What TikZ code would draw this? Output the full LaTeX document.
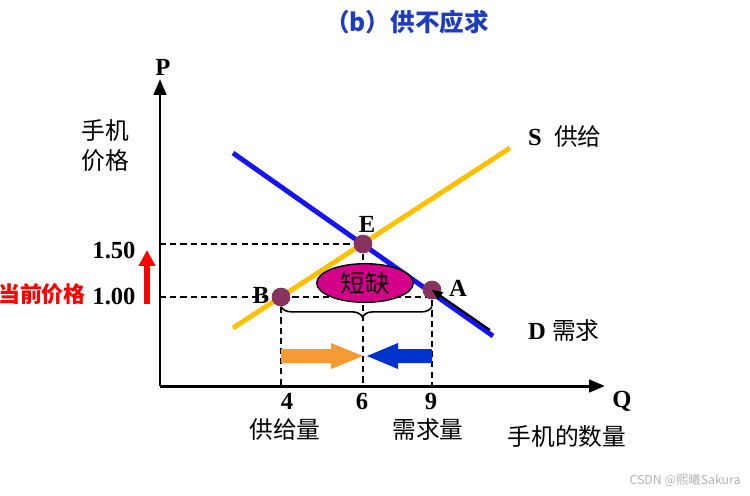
\documentclass[tikz,border=0pt]{standalone}
\usepackage{fontspec}
\setmainfont{Liberation Serif}
\newfontfamily\cjk{Noto Sans CJK SC}
\usetikzlibrary{arrows.meta}
\usetikzlibrary{decorations.pathreplacing}
\usetikzlibrary{shapes.geometric}
\definecolor{supplyyellow}{RGB}{255,192,0}
\definecolor{demandblue}{RGB}{20,20,245}
\definecolor{dotpurple}{RGB}{135,50,95}
\definecolor{shortmagenta}{RGB}{212,0,138}
\definecolor{titleblue}{RGB}{30,60,190}
\definecolor{pushorange}{RGB}{247,154,51}
\definecolor{pushblue}{RGB}{0,51,204}
\tikzset{
	latin/.style={font=\fontsize{14}{16}\selectfont\bfseries},
	zh/.style={font=\fontsize{13.5}{17}\selectfont\cjk},
	guide/.style={line width=1.1pt, dash pattern=on 3.5pt off 2.3pt},
	pointdot/.style={circle, fill=dotpurple, inner sep=0pt, minimum size=10.5pt},
}
\begin{document}
\begin{tikzpicture}[x=0.02cm, y=-0.02cm]
	\useasboundingbox (0,0) rectangle (750,495);
	\coordinate (O) at (160,386);
	\coordinate (Ptop) at (160,79);
	\coordinate (Qend) at (605,386);
	\coordinate (S1) at (233,328);
	\coordinate (S2) at (510,148);
	\coordinate (D1) at (233,153);
	\coordinate (D2) at (493,336);
	\coordinate (Py1) at (160,244);
	\coordinate (Py2) at (160,297);
	\coordinate (Bx) at (281,386);
	\coordinate (Ex) at (363,386);
	\coordinate (Ax) at (432,386);
	\node[text=titleblue, font=\fontsize{14}{16}\selectfont\cjk\bfseries] (title) at (407,22) {（b）供不应求};
	\draw[line width=1.7pt, -{Triangle[length=9pt,width=7pt]}] (O) -- (Ptop);
	\draw[line width=1.7pt, -{Triangle[length=9pt,width=7pt]}] (O) -- (Qend);
	\node[latin] (pLabel) at (163,67) {P};
	\node[latin] (qLabel) at (622,401) {Q};
	\node[zh, align=center] (yName) at (105,146) {手机\\价格};
	\node[zh] (xName) at (567,436) {手机的数量};
	\draw[line width=2.8pt, supplyyellow] (S1) -- (S2);
	\draw[line width=2.8pt, demandblue] (D1) -- (D2);
	\node[latin, anchor=west] (sLabel) at (522,137) {S\ \ {\fontsize{13.5}{17}\selectfont\cjk\mdseries 供给}};
	\node[latin, anchor=west] (dLabel) at (522,331) {D {\fontsize{13.5}{17}\selectfont\cjk\mdseries 需求}};
	\node[pointdot] (E) at (363,244) {};
	\node[pointdot] (B) at (281,297) {};
	\node[pointdot] (A) at (432,290) {};
	\draw[guide] (Py1) -- (E.center);
	\draw[guide] (Py2) -- (Py2 -| A);
	\draw[guide] (B.center) -- (Bx);
	\draw[guide] (E.center) -- (Ex);
	\draw[guide] (A.center) -- (Ax);
	\node[pointdot] at (E) {};
	\node[pointdot] at (B) {};
	\node[pointdot] at (A) {};
	\node[latin] (eLabel) at (367,224) {E};
	\node[latin] (bLabel) at (261,295) {B};
	\node[latin] (aLabel) at (458,288) {A};
	\node[ellipse, draw, line width=0.8pt, fill=shortmagenta, inner sep=0pt, minimum width=55pt, minimum height=22pt, zh, font=\fontsize{14}{17}\selectfont\cjk] (shortage) at (365,283) {短缺};
	\draw[line width=0.9pt, decorate, decoration={brace, mirror, amplitude=6pt, aspect=0.54}] (B.south) -- (A.south |- B.south);
	\coordinate (aTail) at (490,330);
	\draw[line width=1.2pt, -{Triangle[length=6pt,width=5pt]}] (aTail) -- (A.center);
	\coordinate (oStart) at (281,356);
	\coordinate (bStart) at (432,356);
	\fill[pushorange] (oStart) ++(0,-7) -- ++(50,0) -- ++(0,-6) -- (363,356) -- (331,369) -- ++(0,-6) -- ++(-50,0) -- cycle;
	\fill[pushblue] (bStart) ++(0,-7) -- ++(-34,0) -- ++(0,-6) -- (367,356) -- (398,369) -- ++(0,-6) -- ++(34,0) -- cycle;
	\node[latin] (t4) at (287,401) {4};
	\node[latin] (t6) at (362,401) {6};
	\node[latin] (t9) at (431,401) {9};
	\node[zh] (supQty) at (285,430) {供给量};
	\node[zh] (demQty) at (428,430) {需求量};
	\node[latin] (p150) at (114,250) {1.50};
	\node[latin] (p100) at (114,296) {1.00};
	\coordinate (rBot) at (147,304);
	\coordinate (rTop) at (147,250);
	\draw[red, line width=3pt, -{Triangle[length=9pt,width=9pt]}] (rBot) -- (rTop);
	\node[text=red, font=\fontsize{12.5}{16}\selectfont\cjk\bfseries] (curPrice) at (42,294) {当前价格};
	\node[text=black!30, font=\fontsize{7}{8}\selectfont\cjk] (mark) at (685,480) {CSDN @熙曦Sakura};
\end{tikzpicture}
\end{document}
